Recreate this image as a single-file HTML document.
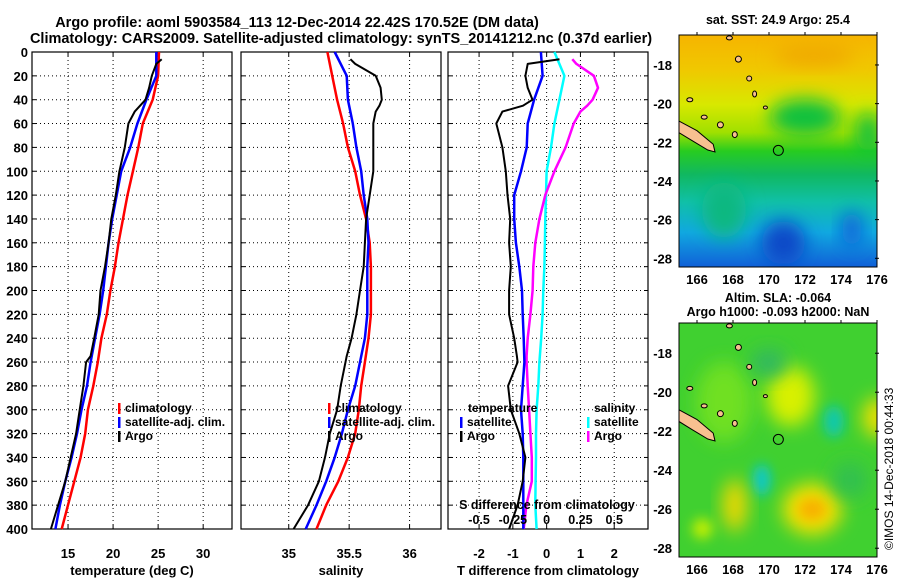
<!DOCTYPE html>
<html><head><meta charset="utf-8"><style>
html,body{margin:0;padding:0;background:#fff;width:900px;height:580px;overflow:hidden}
svg text{font-family:"Liberation Sans",Arial,sans-serif;font-weight:bold;fill:#000}
</style></head><body>
<svg id="c" width="900" height="580" viewBox="0 0 900 580" xmlns="http://www.w3.org/2000/svg">
<defs>
<filter id="bl" x="-50%" y="-50%" width="200%" height="200%"><feGaussianBlur stdDeviation="9"/></filter>
<filter id="bl2" x="-50%" y="-50%" width="200%" height="200%"><feGaussianBlur stdDeviation="6"/></filter>
<linearGradient id="sstg" x1="0" y1="0" x2="0" y2="1">
<stop offset="0" stop-color="#f6b400"/><stop offset="0.15" stop-color="#f0c800"/><stop offset="0.3" stop-color="#d8e800"/>
<stop offset="0.42" stop-color="#a0e000"/><stop offset="0.5" stop-color="#28cc20"/><stop offset="0.6" stop-color="#10b860"/>
<stop offset="0.72" stop-color="#10c0a8"/><stop offset="0.85" stop-color="#10a8e0"/><stop offset="1" stop-color="#1060d8"/></linearGradient>
<clipPath id="m1c"><rect x="679" y="35" width="198" height="232"/></clipPath>
<clipPath id="m2c"><rect x="679" y="323" width="198" height="234"/></clipPath>
</defs>
<text x="297" y="27" font-size="14.5" text-anchor="middle">Argo profile: aoml 5903584_113 12-Dec-2014 22.42S 170.52E (DM data)</text>
<text x="341" y="43" font-size="14.5" text-anchor="middle">Climatology: CARS2009. Satellite-adjusted climatology: synTS_20141212.nc (0.37d earlier)</text>
<g id="plots"></g>
<g id="maps"></g>
<text transform="translate(893,550) rotate(-90)" font-size="12" style="font-weight:normal">©IMOS 14-Dec-2018 00:44:33</text>
</svg>
<script>
const depths=[0,20,40,60,80,100,120,140,160,180,200,220,240,260,280,300,320,340,360,380,400];
const tClim=[25.1,25.0,24.4,23.3,22.8,22.2,21.6,21.1,20.6,20.2,19.7,19.3,18.7,18.3,17.8,17.2,16.9,16.4,15.7,15.0,14.3];
const tSat=[24.8,24.8,23.7,22.7,21.9,20.9,20.4,19.9,19.5,19.2,18.9,18.5,18.0,17.5,17.1,16.5,16.0,15.4,14.7,14.1,13.6];
const argoDepths=[6,10,20,30,40,45,50,60,80,100,120,140,160,180,200,220,240,255,260,280,300,320,340,360,380,400];
const tArgo=[25.4,24.8,24.3,24.0,23.6,23.0,22.4,21.7,21.3,20.7,20.3,19.8,19.5,19.1,18.6,18.4,17.9,17.5,17.0,16.7,16.3,15.9,15.3,14.7,13.9,13.1];
const sClim=[35.32,35.36,35.40,35.45,35.49,35.55,35.59,35.64,35.67,35.68,35.68,35.68,35.66,35.63,35.60,35.58,35.55,35.49,35.41,35.31,35.23];
const sSat=[35.38,35.48,35.49,35.53,35.56,35.60,35.62,35.65,35.66,35.65,35.65,35.65,35.63,35.59,35.55,35.49,35.44,35.38,35.31,35.23,35.14];
const sArgo=[35.51,35.55,35.72,35.76,35.77,35.75,35.72,35.70,35.70,35.70,35.67,35.64,35.63,35.62,35.59,35.56,35.52,35.48,35.47,35.43,35.40,35.34,35.30,35.25,35.16,35.04];
const dTSat=[-0.17,-0.12,-0.37,-0.56,-0.59,-0.76,-0.96,-0.96,-0.91,-0.81,-0.73,-0.71,-0.68,-0.66,-0.71,-0.76,-0.71,-0.69,-0.69,-0.69,-0.69];
const dTArgo=[0.38,-0.56,-0.63,-0.56,-0.42,-0.7,-1.31,-1.49,-1.31,-1.21,-1.16,-1.08,-1.11,-1.06,-1.11,-1.11,-0.96,-0.88,-0.86,-1.14,-1.06,-0.81,-0.63,-0.71,-0.86,-1.11];
const dSSat=[0.057,0.131,0.094,0.057,0.032,0.0,-0.005,-0.01,-0.013,-0.017,-0.025,-0.03,-0.04,-0.054,-0.062,-0.074,-0.079,-0.079,-0.082,-0.084,-0.074];
const dSArgo=[0.19,0.22,0.35,0.38,0.34,0.30,0.25,0.2,0.14,0.057,-0.01,-0.054,-0.084,-0.099,-0.104,-0.12,-0.14,-0.148,-0.148,-0.14,-0.13,-0.12,-0.11,-0.11,-0.15,-0.17];
const depthTicks=[0,20,40,60,80,100,120,140,160,180,200,220,240,260,280,300,320,340,360,380,400];
const tTicks=[15,20,25,30];
const sTicks=[35,35.5,36];
const sTickLabels=["35","35.5","36"];
const dTTicks=[-2,-1,0,1,2];
const dSTicks=[-0.5,-0.25,0,0.25,0.5];
const dSTickLabels=["-0.5","-0.25","0","0.25","0.5"];
const latTicks=[-18,-20,-22,-24,-26,-28];
const lonTicks=[166,168,170,172,174,176];
const argoLat=-22.42, argoLon=170.52;

const NS="http://www.w3.org/2000/svg";
function mk(tag,attrs,parent){const e=document.createElementNS(NS,tag);for(const k in attrs)e.setAttribute(k,attrs[k]);parent.appendChild(e);return e;}
const plots=document.getElementById('plots');
const Y0=52,Y1=529;
const yD=d=>Y0+d*(Y1-Y0)/400;
function xScale(x0,x1,v0,v1){return v=>x0+(v-v0)*(x1-x0)/(v1-v0);}
const panels=[
 {name:'temperature-panel',x0:32,x1:232,sx:xScale(32,232,11,33.2)},
 {name:'salinity-panel',x0:241,x1:441,sx:xScale(241,441,34.605,36.26)},
 {name:'difference-panel',x0:448,x1:648,sx:xScale(448,648,-2.92,3.0)}
];
const sxS=xScale(448,648,-0.73,0.75);
function frame(p,gridVals,labels,xlabel){
 const g=mk('g',{},plots);
 
 
 depthTicks.forEach(d=>{const y=yD(d);
  if(d>0&&d<400){const l=mk('line',{x1:p.x0,x2:p.x1,y1:y,y2:y,stroke:'#000','stroke-width':1,'stroke-dasharray':'1,3'},g);
   }
  mk('line',{x1:p.x0,x2:p.x0+4,y1:y,y2:y,stroke:'#000'},g);mk('line',{x1:p.x1-4,x2:p.x1,y1:y,y2:y,stroke:'#000'},g);
 });
 gridVals.forEach((v,i)=>{const x=p.sx(v);
  const l=mk('line',{x1:x,x2:x,y1:Y0,y2:Y1,stroke:'#000','stroke-width':1,'stroke-dasharray':'1,3'},g);
  
  mk('line',{x1:x,x2:x,y1:Y0,y2:Y0+4,stroke:'#000'},g);mk('line',{x1:x,x2:x,y1:Y1-4,y2:Y1,stroke:'#000'},g);
  const t=mk('text',{x:x,y:558,'font-size':13,'text-anchor':'middle'},g);t.textContent=labels[i];
  
 });
 const r=mk('rect',{x:p.x0,y:Y0,width:p.x1-p.x0,height:Y1-Y0,fill:'none',stroke:'#000','stroke-width':1.2},g);
 
 const xt=mk('text',{x:(p.x0+p.x1)/2,y:575,'font-size':13,'text-anchor':'middle'},g);xt.textContent=xlabel;
 
 return g;
}
function line(g,ds,vs,sx,color,w,name){
 const pts=ds.map((d,i)=>sx(vs[i]).toFixed(1)+','+yD(d).toFixed(1)).join(' ');
 const pl=mk('polyline',{points:pts,fill:'none',stroke:color,'stroke-width':w,'stroke-linejoin':'round'},g);
 
}
function legend(g,x,y,color,label){
 mk('rect',{x:x,y:y-9,width:2.5,height:11,fill:color},g);
 const t=mk('text',{x:x+7,y:y,'font-size':12},g);t.textContent=label;
 
}
const g1=frame(panels[0],tTicks,tTicks.map(String),'temperature (deg C)');
depthTicks.forEach(d=>{const t=mk('text',{x:28,y:yD(d)+5,'font-size':13,'text-anchor':'end'},g1);t.textContent=d;
 });
line(g1,depths,tClim,panels[0].sx,'#ff0000',2.5,'temperature-climatology-line');
line(g1,depths,tSat,panels[0].sx,'#0000ff',2.5,'temperature-satellite-line');
line(g1,argoDepths,tArgo,panels[0].sx,'#000',2,'temperature-argo-line');
legend(g1,118,412,'#ff0000','climatology');legend(g1,118,426,'#0000ff','satellite-adj. clim.');legend(g1,118,440,'#000','Argo');
const g2=frame(panels[1],sTicks,sTickLabels,'salinity');
line(g2,depths,sClim,panels[1].sx,'#ff0000',2.5,'salinity-climatology-line');
line(g2,depths,sSat,panels[1].sx,'#0000ff',2.5,'salinity-satellite-line');
line(g2,argoDepths,sArgo,panels[1].sx,'#000',2,'salinity-argo-line');
legend(g2,328,412,'#ff0000','climatology');legend(g2,328,426,'#0000ff','satellite-adj. clim.');legend(g2,328,440,'#000','Argo');
const g3=frame(panels[2],dTTicks,dTTicks.map(String),'T difference from climatology');
line(g3,depths,dSSat,sxS,'#00ffff',2.5,'salinity-diff-satellite-line');
line(g3,argoDepths,dSArgo,sxS,'#ff00ff',2.5,'salinity-diff-argo-line');
line(g3,depths,dTSat,panels[2].sx,'#0000ff',2.5,'temperature-diff-satellite-line');
line(g3,argoDepths,dTArgo,panels[2].sx,'#000',2,'temperature-diff-argo-line');
let tt=mk('text',{x:468,y:412,'font-size':12},g3);tt.textContent='temperature';

tt=mk('text',{x:594,y:412,'font-size':12},g3);tt.textContent='salinity';

legend(g3,460,426,'#0000ff','satellite');legend(g3,460,440,'#000','Argo');
legend(g3,587,426,'#00ffff','satellite');legend(g3,587,440,'#ff00ff','Argo');
tt=mk('text',{x:547,y:509,'font-size':12.5,'text-anchor':'middle'},g3);tt.textContent='S difference from climatology';

dSTicks.forEach((v,i)=>{const t=mk('text',{x:sxS(v),y:524,'font-size':12.5,'text-anchor':'middle'},g3);t.textContent=dSTickLabels[i];
 });

const maps=document.getElementById('maps');
const mx=lon=>679+(lon-165)*18;
function drawMap(top,kind,titles){
 const bot=top+(kind===1?232:234);
 const my=lat=>top+(-16.45-lat)*((bot-top)/12);
 const g=mk('g',{},maps);
 
 
 const cg=mk('g',{'clip-path':kind===1?'url(#m1c)':'url(#m2c)'},g);
 if(kind===1){
  mk('rect',{x:679,y:top,width:198,height:bot-top,fill:'url(#sstg)'},cg);
  mk('ellipse',{cx:mx(172),cy:my(-20.7),rx:35,ry:18,fill:'#10c040',filter:'url(#bl)'},cg);
  mk('ellipse',{cx:mx(175.5),cy:my(-21.5),rx:12,ry:20,fill:'#10c040',filter:'url(#bl)'},cg);
  mk('ellipse',{cx:mx(170.8),cy:my(-27.2),rx:22,ry:22,fill:'#0848c8',filter:'url(#bl)'},cg);
  mk('ellipse',{cx:mx(174.6),cy:my(-26.5),rx:10,ry:18,fill:'#1060d8',filter:'url(#bl)'},cg);
  mk('ellipse',{cx:mx(167.5),cy:my(-25.5),rx:22,ry:28,fill:'#10b880',filter:'url(#bl)'},cg);
  mk('ellipse',{cx:mx(172.5),cy:my(-17.5),rx:40,ry:10,fill:'#f0a800',filter:'url(#bl)'},cg);
 } else {
  mk('rect',{x:679,y:top,width:198,height:bot-top,fill:'#40d030'},cg);
  mk('ellipse',{cx:mx(167.5),cy:my(-20.5),rx:28,ry:40,fill:'#70e020',filter:'url(#bl)'},cg);
  mk('ellipse',{cx:mx(171.2),cy:my(-20.2),rx:24,ry:30,fill:'#d8f000',filter:'url(#bl)'},cg);
  mk('ellipse',{cx:mx(173.6),cy:my(-21.5),rx:10,ry:16,fill:'#10c8b0',filter:'url(#bl2)'},cg);
  mk('ellipse',{cx:mx(169.6),cy:my(-24.5),rx:9,ry:16,fill:'#10c8c8',filter:'url(#bl2)'},cg);
  mk('ellipse',{cx:mx(172.4),cy:my(-26),rx:30,ry:26,fill:'#f0e000',filter:'url(#bl)'},cg);
  mk('ellipse',{cx:mx(172.4),cy:my(-26),rx:14,ry:11,fill:'#f8b000',filter:'url(#bl2)'},cg);
  mk('ellipse',{cx:mx(168.1),cy:my(-25.8),rx:12,ry:26,fill:'#f0d800',filter:'url(#bl)'},cg);
  mk('ellipse',{cx:mx(176),cy:my(-21.3),rx:14,ry:20,fill:'#f0e000',filter:'url(#bl)'},cg);
  mk('ellipse',{cx:mx(166.3),cy:my(-27),rx:10,ry:10,fill:'#c8f000',filter:'url(#bl2)'},cg);
  mk('ellipse',{cx:mx(170),cy:my(-18.5),rx:18,ry:14,fill:'#30b860',filter:'url(#bl)'},cg);
  mk('ellipse',{cx:mx(174.5),cy:my(-24.5),rx:18,ry:18,fill:'#30c050',filter:'url(#bl)'},cg);
 }
 const nc=mk('polygon',{points:[[165,-20.9],[166,-21.4],[166.9,-22.1],[167.0,-22.5],[166.6,-22.4],[165.7,-21.9],[165,-21.5]].map(p=>mx(p[0])+','+my(p[1])).join(' '),fill:'#f8c090',stroke:'#000','stroke-width':1},cg);
 
 [[168.3,-17.7,3,3],[168.9,-18.7,2.5,2.5],[169.2,-19.5,2,3],[167.3,-21.1,3,3],[168.1,-21.6,2.5,3],[166.4,-20.7,3,2],[165.6,-19.8,3,2],[167.8,-16.6,3,2],[169.8,-20.2,2,1.5]].forEach(p=>{
  const e=mk('ellipse',{cx:mx(p[0]),cy:my(p[1]),rx:p[2],ry:p[3],fill:'#f8c090',stroke:'#000','stroke-width':1},cg);
  
 });
 const c=mk('circle',{cx:mx(argoLon),cy:my(argoLat),r:5,fill:'none',stroke:'#000','stroke-width':1},g);
 
 mk('rect',{x:679,y:top,width:198,height:bot-top,fill:'none',stroke:'#000','stroke-width':1},g);
 latTicks.forEach(l=>{const y=my(l);mk('line',{x1:875,x2:879,y1:y,y2:y,stroke:'#000'},g);
  const t=mk('text',{x:672,y:y+5,'font-size':13,'text-anchor':'end'},g);t.textContent=l;
  });
 lonTicks.forEach(l=>{const x=mx(l);mk('line',{x1:x,x2:x,y1:top-3,y2:top,stroke:'#000'},g);
  const t=mk('text',{x:x,y:bot+17,'font-size':13,'text-anchor':'middle'},g);t.textContent=l;
  });
 titles.forEach((s,i)=>{const t=mk('text',{x:778,y:(kind===1?24:302)+i*14,'font-size':12.5,'text-anchor':'middle'},g);t.textContent=s;
  });
}
drawMap(35,1,['sat. SST: 24.9 Argo: 25.4']);
drawMap(323,2,['Altim. SLA: -0.064','Argo h1000: -0.093 h2000: NaN']);
</script>
</body></html>
